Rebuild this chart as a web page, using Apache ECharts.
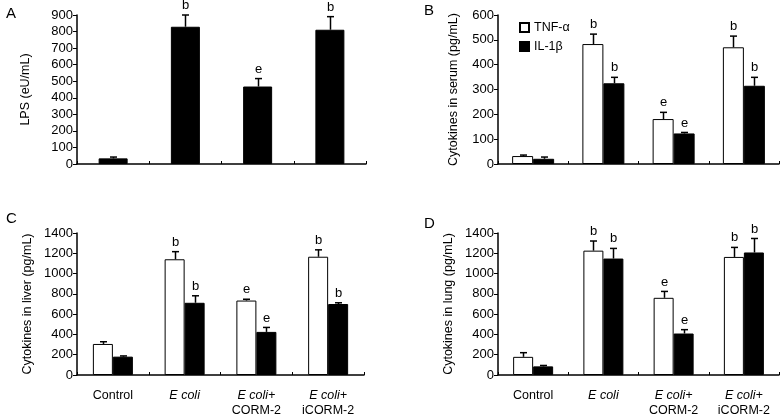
<!DOCTYPE html>
<html>
<head>
<meta charset="utf-8">
<script src="https://cdn.jsdelivr.net/npm/echarts@6/dist/echarts.min.js"></script>
<style>html,body{margin:0;padding:0;background:#fff}#c{width:784px;height:418px}</style>
</head>
<body>
<div id="c"></div>
<script>
// ---------- data ----------
const groups = ['Control', 'E coli', 'E coli+\nCORM-2', 'E coli+\niCORM-2'];

const lpsMean = [34, 829, 468, 811];
const lpsErr  = [8, 71, 48, 79];
const lpsSig  = ['', 'b', 'e', 'b'];

const serumTNF    = [32, 483, 181, 470];
const serumTNFErr = [4, 40, 27, 45];
const serumIL     = [21, 325, 123, 315];
const serumILErr  = [7, 24, 4, 34];

const liverTNF    = [306, 1141, 734, 1166];
const liverTNFErr = [22, 75, 13, 68];
const liverIL     = [181, 712, 425, 700];
const liverILErr  = [7, 69, 44, 12];

const lungTNF    = [179, 1226, 761, 1164];
const lungTNFErr = [41, 95, 63, 94];
const lungIL     = [85, 1148, 409, 1208];
const lungILErr  = [9, 100, 38, 138];

const tnfSig = ['', 'b', 'e', 'b'];
const ilSig  = ['', 'b', 'e', 'b'];

const yTicksA = [0, 900, 100];
const yTicksB = [0, 600, 100];
const yTicksCD = [0, 1400, 200];

// ---------- rendering ----------
const FONT = '"Liberation Sans", Arial, sans-serif';
const chart = echarts.init(document.getElementById('c'), null, {renderer: 'canvas'});

function errSeries(idx, mean, err, sig, offset) {
  return {
    type: 'custom', xAxisIndex: idx, yAxisIndex: idx, z: 5,
    data: mean.map((m, i) => [i, m + err[i], m]),
    renderItem: function (params, api) {
      const top = api.coord([api.value(0), api.value(1)]);
      const base = api.coord([api.value(0), api.value(2)]);
      const x = Math.round(top[0] + offset) + 0.5;
      const children = [
        {type: 'line', shape: {x1: x, y1: base[1], x2: x, y2: top[1]}, style: {stroke: '#000', lineWidth: 1.5}},
        {type: 'line', shape: {x1: x - 3.5, y1: top[1], x2: x + 3.5, y2: top[1]}, style: {stroke: '#000', lineWidth: 1.5}}
      ];
      const s = sig[params.dataIndex];
      if (s) {
        children.push({type: 'text', style: {text: s, x: x, y: top[1] - 3, align: 'center', verticalAlign: 'bottom', font: '13px ' + FONT, fill: '#000'}});
      }
      return {type: 'group', children: children};
    }
  };
}

function yAxis(idx, ticks, name, gap) {
  return {
    type: 'value', gridIndex: idx, min: ticks[0], max: ticks[1], interval: ticks[2],
    name: name, nameLocation: 'middle', nameGap: gap,
    nameTextStyle: {fontFamily: FONT, fontSize: 12.5, color: '#000'},
    axisLine: {show: true, lineStyle: {color: '#000', width: 1.5}},
    axisTick: {show: true, length: 4, lineStyle: {color: '#000', width: 1}},
    axisLabel: {fontFamily: FONT, fontSize: 13, color: '#000', margin: 4, formatter: function (v) { return String(v); }},
    splitLine: {show: false}
  };
}

function xAxis(idx, showLabels) {
  return {
    type: 'category', gridIndex: idx, data: groups,
    axisLine: {lineStyle: {color: '#000', width: 1.5}},
    axisTick: {show: true, inside: true, length: 3, lineStyle: {color: '#000'}},
    axisLabel: {
      show: showLabels, interval: 0, margin: 13, lineHeight: 15,
      fontFamily: FONT, fontSize: 12.5, color: '#000',
      formatter: function (v) {
        const parts = v.split('\n');
        return parts.map((p) => (p.indexOf('E coli') === 0 ? '{i|' + p + '}' : '{n|' + p + '}')).join('\n');
      },
      rich: {
        i: {fontStyle: 'italic', fontFamily: FONT, fontSize: 12.5, color: '#000', lineHeight: 15},
        n: {fontFamily: FONT, fontSize: 12.5, color: '#000', lineHeight: 15}
      }
    },
    splitLine: {show: false}
  };
}

const whiteBar = {color: '#fff', borderColor: '#000', borderWidth: 1};
const blackBar = {color: '#000', borderColor: '#000', borderWidth: 1};

const option = {
  animation: false,
  backgroundColor: '#fff',
  grid: [
    {left: 77, top: 15, width: 289, height: 149},
    {left: 498, top: 15, width: 281, height: 149},
    {left: 77, top: 233, width: 287, height: 149},
    {left: 498, top: 233, width: 281, height: 149}
  ],
  xAxis: [xAxis(0, false), xAxis(1, false), xAxis(2, true), xAxis(3, true)],
  yAxis: [
    yAxis(0, yTicksA, 'LPS (eU/mL)', 45),
    yAxis(1, yTicksB, 'Cytokines in serum (pg/mL)', 38),
    yAxis(2, yTicksCD, 'Cytokines in liver (pg/mL)', 43),
    yAxis(3, yTicksCD, 'Cytokines in lung (pg/mL)', 43)
  ],
  legend: {
    data: ['TNF-α', 'IL-1β'], orient: 'vertical', left: 514, top: 16,
    icon: 'rect', itemWidth: 9, itemHeight: 9, itemGap: 6,
    textStyle: {fontFamily: FONT, fontSize: 12.5, color: '#000'}
  },
  graphic: [
    {type: 'text', left: 6, top: 6, style: {text: 'A', font: '15px ' + FONT, fill: '#000'}},
    {type: 'text', left: 424, top: 3, style: {text: 'B', font: '15px ' + FONT, fill: '#000'}},
    {type: 'text', left: 6, top: 211, style: {text: 'C', font: '15px ' + FONT, fill: '#000'}},
    {type: 'text', left: 424, top: 216, style: {text: 'D', font: '15px ' + FONT, fill: '#000'}}
  ],
  series: [
    {name: 'LPS', type: 'bar', xAxisIndex: 0, yAxisIndex: 0, data: lpsMean, barWidth: 29, itemStyle: blackBar},
    errSeries(0, lpsMean, lpsErr, lpsSig, 0),

    {name: 'TNF-α', type: 'bar', xAxisIndex: 1, yAxisIndex: 1, data: serumTNF, barWidth: 21, barGap: '0%', itemStyle: whiteBar},
    {name: 'IL-1β', type: 'bar', xAxisIndex: 1, yAxisIndex: 1, data: serumIL, barWidth: 21, barGap: '0%', itemStyle: blackBar},
    errSeries(1, serumTNF, serumTNFErr, tnfSig, -10.5),
    errSeries(1, serumIL, serumILErr, ilSig, 10.5),

    {name: 'TNF-α', type: 'bar', xAxisIndex: 2, yAxisIndex: 2, data: liverTNF, barWidth: 20, barGap: '0%', itemStyle: whiteBar},
    {name: 'IL-1β', type: 'bar', xAxisIndex: 2, yAxisIndex: 2, data: liverIL, barWidth: 20, barGap: '0%', itemStyle: blackBar},
    errSeries(2, liverTNF, liverTNFErr, tnfSig, -10),
    errSeries(2, liverIL, liverILErr, ilSig, 10),

    {name: 'TNF-α', type: 'bar', xAxisIndex: 3, yAxisIndex: 3, data: lungTNF, barWidth: 20, barGap: '0%', itemStyle: whiteBar},
    {name: 'IL-1β', type: 'bar', xAxisIndex: 3, yAxisIndex: 3, data: lungIL, barWidth: 20, barGap: '0%', itemStyle: blackBar},
    errSeries(3, lungTNF, lungTNFErr, tnfSig, -10),
    errSeries(3, lungIL, lungILErr, ilSig, 10)
  ]
};
chart.setOption(option);
</script>
</body>
</html>
